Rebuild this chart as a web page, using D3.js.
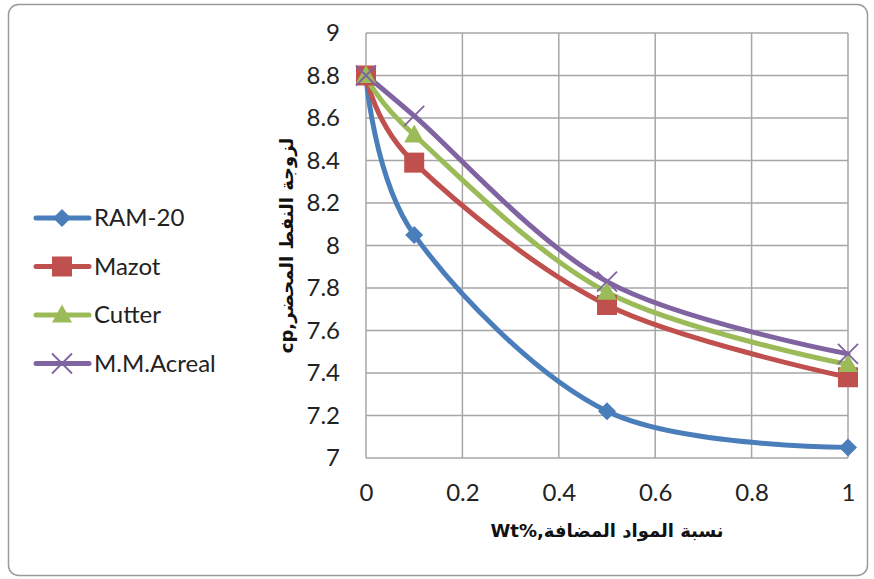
<!DOCTYPE html>
<html>
<head>
<meta charset="utf-8">
<script src="https://cdn.jsdelivr.net/npm/d3@7"></script>
<style>
  body { margin: 0; background: #fff; }
  svg { display: block; }
</style>
</head>
<body>
<div id="chart"></div>
<script>
// values
const xValues = [0, 0.1, 0.5, 1];
const ram20 = [8.8, 8.05, 7.22, 7.05];
const mazot = [8.8, 8.39, 7.72, 7.38];
const cutter = [8.8, 8.52, 7.78, 7.44];
const acreal = [8.8, 8.61, 7.83, 7.49];
const seriesNames = ['RAM-20', 'Mazot', 'Cutter', 'M.M.Acreal'];
const xTicks = [0, 0.2, 0.4, 0.6, 0.8, 1];
const yTicks = [7, 7.2, 7.4, 7.6, 7.8, 8, 8.2, 8.4, 8.6, 8.8, 9];
// LRM keeps "%" on the latin side of the rtl title
const xTitle = 'نسبة المواد المضافة,Wt%\u200E';
const yTitle = 'لزوجة النفط المحضر,cp';

const width = 874, height = 579;
const margin = { left: 366, right: 26, top: 33, bottom: 121 };

const svg = d3.select('#chart').append('svg')
    .attr('width', width)
    .attr('height', height);

// chart border
svg.append('rect')
    .attr('x', 8.5).attr('y', 4.5)
    .attr('width', 859).attr('height', 571)
    .attr('rx', 10)
    .attr('fill', '#fff')
    .attr('stroke', '#9a9a9a')
    .attr('stroke-width', 1.5);

const x = d3.scaleLinear().domain([0, 1]).range([margin.left, width - margin.right]);
const y = d3.scaleLinear().domain([7, 9]).range([height - margin.bottom, margin.top]);

const grid = svg.append('g').attr('stroke', '#a6a6a6').attr('stroke-width', 1.5);
grid.selectAll('.vl').data(xTicks).join('line')
    .attr('x1', d => x(d)).attr('x2', d => x(d))
    .attr('y1', y(7)).attr('y2', y(9));
grid.selectAll('.hl').data(yTicks).join('line')
    .attr('x1', x(0)).attr('x2', x(1))
    .attr('y1', d => y(d)).attr('y2', d => y(d));

const font = 'Lato, "Open Sans", sans-serif';
const fontSize = 24;

const xAxis = svg.append('g')
    .attr('transform', `translate(0,${y(7)})`)
    .call(d3.axisBottom(x).tickValues(xTicks).tickSize(0).tickPadding(26).tickFormat(d3.format('')));
const yAxis = svg.append('g')
    .attr('transform', `translate(${x(0)},0)`)
    .call(d3.axisLeft(y).tickValues(yTicks).tickSize(0).tickPadding(26).tickFormat(d3.format('')));
[xAxis, yAxis].forEach(a => {
    a.select('.domain').remove();
    a.selectAll('text')
        .attr('font-family', font)
        .attr('font-size', fontSize)
        .attr('fill', '#222');
});

svg.append('text')
    .attr('x', (x(0) + x(1)) / 2)
    .attr('y', 537)
    .attr('text-anchor', 'middle')
    .attr('direction', 'rtl')
    .attr('font-family', '"DejaVu Sans", sans-serif')
    .attr('font-weight', 'bold')
    .attr('font-size', 18)
    .attr('fill', '#111')
    .text(xTitle);

svg.append('text')
    .attr('transform', `translate(293,${(y(7) + y(9)) / 2}) rotate(-90)`)
    .attr('text-anchor', 'middle')
    .attr('direction', 'rtl')
    .attr('font-family', '"DejaVu Sans", sans-serif')
    .attr('font-weight', 'bold')
    .attr('font-size', 18)
    .attr('fill', '#111')
    .text(yTitle);

const colors = ['#4a7ebb', '#c0504d', '#9bbb59', '#8064a2'];
const allSeries = [ram20, mazot, cutter, acreal];

const line = d3.line()
    .x((d, i) => x(xValues[i]))
    .y(d => y(d))
    .curve(d3.curveCardinal.tension(0));

function drawMarker(g, k, cx, cy, s) {
    const c = colors[k];
    if (k === 0) {
        g.append('path')
            .attr('d', `M${cx},${cy - s}L${cx + s},${cy}L${cx},${cy + s}L${cx - s},${cy}Z`)
            .attr('fill', c);
    } else if (k === 1) {
        g.append('rect')
            .attr('x', cx - s).attr('y', cy - s)
            .attr('width', 2 * s).attr('height', 2 * s)
            .attr('fill', c);
    } else if (k === 2) {
        g.append('path')
            .attr('d', `M${cx},${cy - s * 1.05}L${cx + s},${cy + s * 0.75}L${cx - s},${cy + s * 0.75}Z`)
            .attr('fill', c);
    } else {
        g.append('path')
            .attr('d', `M${cx - s},${cy - s}L${cx + s},${cy + s}M${cx + s},${cy - s}L${cx - s},${cy + s}`)
            .attr('stroke', c).attr('stroke-width', 1.8).attr('fill', 'none');
    }
}

const markerSize = [9, 10, 10, 10];

allSeries.forEach((vals, k) => {
    svg.append('path')
        .datum(vals)
        .attr('d', line)
        .attr('fill', 'none')
        .attr('stroke', colors[k])
        .attr('stroke-width', 5)
        .attr('stroke-linecap', 'round');
});
allSeries.forEach((vals, k) => {
    const g = svg.append('g');
    vals.forEach((v, i) => drawMarker(g, k, x(xValues[i]), y(v), markerSize[k]));
});

// legend
const legend = svg.append('g');
seriesNames.forEach((name, k) => {
    const ly = 218 + k * 48.5;
    legend.append('line')
        .attr('x1', 36).attr('x2', 89)
        .attr('y1', ly).attr('y2', ly)
        .attr('stroke', colors[k])
        .attr('stroke-width', 5)
        .attr('stroke-linecap', 'round');
    drawMarker(legend, k, 62, ly, markerSize[k]);
    legend.append('text')
        .attr('x', 94).attr('y', ly + 8)
        .attr('font-family', font)
        .attr('font-size', fontSize)
        .attr('fill', '#222')
        .text(name);
});
</script>
</body>
</html>
